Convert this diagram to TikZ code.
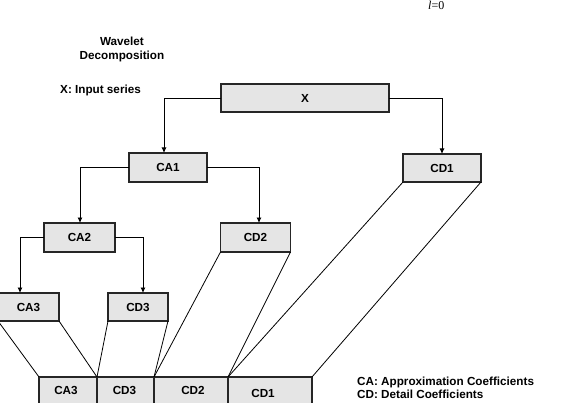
\documentclass[tikz,border=0pt]{standalone}
\usepackage{fontspec}
\setmainfont{Liberation Sans}
\newfontfamily\serifx{Liberation Serif}
\usetikzlibrary{arrows.meta}
\begin{document}
\begin{tikzpicture}[x=1pt,y=-1pt,
  box/.style={draw=black!85,line width=1.1pt,fill=black!10,inner sep=0pt,outer sep=0pt,
    font=\bfseries\fontsize{11.7}{13.5}\selectfont},
  lbl/.style={inner sep=0pt,font=\bfseries\fontsize{11.7}{13.5}\selectfont},
  conn/.style={draw=black,line width=0.8pt},
  arr/.style={conn,-{Latex[length=5.5pt,width=5pt]}}]
\useasboundingbox (0,0) rectangle (577,403);
% top-level boxes
\node[box,minimum width=168pt,minimum height=28pt] (x) at (305,98) {X};
\node[box,minimum width=78pt,minimum height=29pt] (ca1) at (168,167.5) {CA1};
\node[box,minimum width=78pt,minimum height=28pt] (cd1) at (442,168) {CD1};
\node[box,minimum width=71pt,minimum height=29pt] (ca2) at (79.5,237.5) {CA2};
\node[box,minimum width=70pt,minimum height=29pt] (cd2) at (255.5,237.5) {CD2};
\node[box,minimum width=61pt,minimum height=28pt] (ca3t) at (28.5,307) {CA3};
\node[box,minimum width=60pt,minimum height=28pt] (cd3t) at (138,307) {CD3};
% bottom row
\node[box,minimum width=58pt,minimum height=29pt] (ca3b) at (68,391.5) {};
\node[box,minimum width=57pt,minimum height=29pt] (cd3b) at (125.5,391.5) {};
\node[box,minimum width=74pt,minimum height=29pt] (cd2b) at (191,391.5) {};
\node[box,minimum width=84pt,minimum height=29pt] (cd1b) at (270,391.5) {};
\node[lbl] (ca3bl) at (66,390) {CA3};
\node[lbl] (cd3bl) at (124.5,390) {CD3};
\node[lbl] (cd2bl) at (193,390) {CD2};
\node[lbl] (cd1bl) at (263,393) {CD1};
% tree connectors
\draw[arr] (x.west) -| ([xshift=-4pt]ca1.north);
\draw[arr] (x.east) -| (cd1.north);
\draw[arr] (ca1.west) -| ([xshift=0.5pt]ca2.north);
\draw[arr] (ca1.east) -| ([xshift=3.5pt]cd2.north);
\draw[arr] (ca2.west) -| ([xshift=-8.5pt]ca3t.north);
\draw[arr] (ca2.east) -| ([xshift=5pt]cd3t.north);
% slanted connectors to bottom row
\draw[conn] (ca3t.south west) -- (ca3b.north west);
\draw[conn] (ca3t.south east) -- (ca3b.north east);
\draw[conn] (cd3t.south west) -- (cd3b.north west);
\draw[conn] (cd3t.south east) -- (cd3b.north east);
\draw[conn] (cd2.south west) -- (cd2b.north west);
\draw[conn] (cd2.south east) -- (cd2b.north east);
\draw[conn] (cd1.south west) -- (cd1b.north west);
\draw[conn] (cd1.south east) -- (cd1b.north east);
% texts
\node[lbl,align=center] (title) at (122,49.5) {Wavelet\\Decomposition};
\node[lbl,anchor=west] (inp) at (60,90) {X: Input series};
\node[lbl,anchor=west,align=left] (legend) at (357,388) {CA: Approximation Coefficients\\CD: Detail Coefficients};
\node[anchor=base west,inner sep=0pt,font=\serifx\fontsize{12}{14}\selectfont] (frag) at (428,10) {\itshape l\upshape =0};
\end{tikzpicture}
\end{document}
